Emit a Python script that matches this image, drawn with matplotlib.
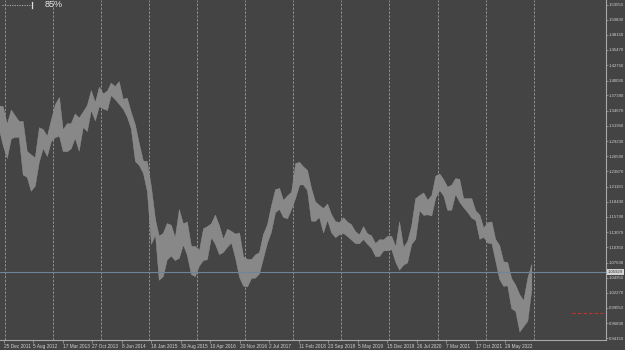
import pandas as pd
import matplotlib
matplotlib.use("Agg")
import matplotlib.pyplot as plt
import matplotlib.transforms as mtransforms
from matplotlib.lines import Line2D

# monthly high / low (Nov 2011 .. Dec 2022)
high = [1.3560, 1.3549,
        1.3236, 1.3487, 1.3385, 1.3284, 1.3283, 1.2747, 1.2691, 1.2637, 1.3172, 1.3140, 1.3020, 1.3308,
        1.3586, 1.3711, 1.3134, 1.3243, 1.3243, 1.3417, 1.3345, 1.3452, 1.3569, 1.3833, 1.3620, 1.3893,
        1.3775, 1.3825, 1.3967, 1.3905, 1.3993, 1.3677, 1.3700, 1.3444, 1.3221, 1.2887, 1.2577, 1.2570,
        1.2110, 1.1534, 1.1244, 1.1290, 1.1467, 1.1436, 1.1215, 1.1714, 1.1460, 1.1495, 1.1058, 1.1059,
        1.0990, 1.1376, 1.1410, 1.1464, 1.1616, 1.1428, 1.1186, 1.1366, 1.1327, 1.1278, 1.1300, 1.0874,
        1.0829, 1.0829, 1.0906, 1.0950, 1.1268, 1.1445, 1.1777, 1.2070, 1.2092, 1.1880, 1.1961, 1.2023,
        1.2536, 1.2555, 1.2476, 1.2414, 1.2097, 1.1852, 1.1791, 1.1734, 1.1815, 1.1625, 1.1500, 1.1486,
        1.1570, 1.1489, 1.1448, 1.1324, 1.1265, 1.1412, 1.1286, 1.1249, 1.1109, 1.1179, 1.1175, 1.1239,
        1.1239, 1.1053, 1.1495, 1.1039, 1.1146, 1.1422, 1.1908, 1.1966, 1.2011, 1.1881, 1.1966, 1.2310,
        1.2349, 1.2243, 1.2114, 1.2150, 1.2266, 1.2254, 1.1909, 1.1909, 1.1909, 1.1692, 1.1616, 1.1386,
        1.1483, 1.1495, 1.1185, 1.1076, 1.0786, 1.0773, 1.0486, 1.0368, 1.0198, 1.0094, 1.0497, 1.0736]
low = [1.3146, 1.2858,
       1.2624, 1.2974, 1.3001, 1.3000, 1.2332, 1.2288, 1.2042, 1.2132, 1.2564, 1.2802, 1.2661, 1.2925,
       1.2998, 1.3019, 1.2750, 1.2745, 1.2796, 1.2985, 1.2755, 1.3178, 1.3105, 1.3478, 1.3296, 1.3547,
       1.3507, 1.3479, 1.3746, 1.3673, 1.3592, 1.3503, 1.3366, 1.3151, 1.2572, 1.2500, 1.2358, 1.2035,
       1.1098, 1.1261, 1.0458, 1.0521, 1.0819, 1.0888, 1.0808, 1.0848, 1.1087, 1.0897, 1.0557, 1.0523,
       1.0711, 1.0810, 1.0822, 1.1217, 1.1098, 1.0913, 1.0952, 1.1046, 1.1122, 1.0852, 1.0505, 1.0352,
       1.0340, 1.0494, 1.0494, 1.0569, 1.0839, 1.1119, 1.1312, 1.1662, 1.1717, 1.1574, 1.1553, 1.1717,
       1.1916, 1.2153, 1.2155, 1.2055, 1.1510, 1.1508, 1.1576, 1.1301, 1.1526, 1.1302, 1.1216, 1.1269,
       1.1289, 1.1234, 1.1176, 1.1110, 1.1106, 1.1181, 1.1101, 1.1027, 1.0879, 1.0879, 1.0981, 1.0981,
       1.1001, 1.0778, 1.0636, 1.0727, 1.0766, 1.1095, 1.1185, 1.1696, 1.1612, 1.1622, 1.1603, 1.1922,
       1.2054, 1.1952, 1.1704, 1.1704, 1.1986, 1.1847, 1.1752, 1.1664, 1.1563, 1.1524, 1.1186, 1.1222,
       1.1121, 1.1106, 1.0806, 1.0471, 1.0349, 1.0359, 0.9952, 0.9901, 0.9536, 0.9632, 0.9730, 1.0290]
months = pd.date_range("2011-11-01", periods=len(high), freq="MS") + pd.Timedelta(days=14)

price_labels = ["1.53550", "1.50830", "1.48150", "1.45470", "1.42750", "1.40030", "1.37390",
                "1.34670", "1.31950", "1.29230", "1.26590", "1.23870", "1.21150", "1.18430",
                "1.15790", "1.13070", "1.10350", "1.07630", "1.04950", "1.02270", "0.99550",
                "0.96830", "0.94150"]
date_labels = ["25 Dec 2011", "5 Aug 2012", "17 Mar 2013", "27 Oct 2013", "8 Jun 2014",
               "18 Jan 2015", "30 Aug 2015", "10 Apr 2016", "20 Nov 2016", "2 Jul 2017",
               "11 Feb 2018", "23 Sep 2018", "5 May 2019", "15 Dec 2019", "26 Jul 2020",
               "7 Mar 2021", "17 Oct 2021", "29 May 2022"]
grid_years = list(range(2012, 2024))
last_price = 1.05929
stop_level = 0.9860
progress = "85%"

bg = "#444444"
fig = plt.figure(figsize=(6.25, 3.5), dpi=100, facecolor=bg)
ax = fig.add_axes([0, 10 / 350, 606 / 625, 340 / 350], facecolor=bg)

# bars band
ax.fill_between(months, low, high, color="#888888", lw=0.3, edgecolor="#949494")

# yearly separators
for yr in grid_years:
    ax.axvline(pd.Timestamp(f"{yr}-01-01"), color="#909090", lw=0.7, ls=(0, (2.5, 1.5)), zorder=0)

# current price and stop line
ax.axhline(last_price, color="#6d8499", lw=0.8)
ax.axhline(stop_level, xmin=572 / 606, xmax=0.995, color="#c83030", lw=0.8, ls=(0, (3, 2)))

# scales
d0 = pd.Timestamp("2011-12-25")
px_week = 0.921
left = d0 - pd.Timedelta(weeks=4 / px_week)
ax.set_xlim(left, left + pd.Timedelta(weeks=606 / px_week))
ax.set_ylim(0.9385, 0.9385 + 340 * 0.00178)

font = ["Liberation Sans", "DejaVu Sans"]
ax.yaxis.tick_right()
ax.set_yticks([float(v) for v in price_labels])
ax.set_yticklabels(price_labels, fontsize=3.1, color="#d0d0d0", family=font)
ax.set_xticks(pd.to_datetime(date_labels, format="%d %b %Y"))
ax.set_xticklabels(date_labels, fontsize=3.4, color="#d0d0d0", ha="left", family=font)
ax.tick_params(axis="y", length=1.5, width=0.5, color="#a8a8a8", pad=0.4)
ax.tick_params(axis="x", length=2, width=0.5, color="#a8a8a8", pad=1)

for s in ["left", "top"]:
    ax.spines[s].set_visible(False)
for s in ["right", "bottom"]:
    ax.spines[s].set_color("#a8a8a8")
    ax.spines[s].set_linewidth(0.8)

# price box on the scale
trans = mtransforms.blended_transform_factory(ax.transAxes, ax.transData)
trans = mtransforms.offset_copy(trans, fig=fig, x=2, y=0, units="dots")
ax.text(1.0, last_price, f"{last_price:.5f}", transform=trans, ha="left", va="center",
        fontsize=3.1, color="#303030", family=font,
        bbox=dict(boxstyle="square,pad=0.2", fc="#d4d4d4", ec="none"))

# loading indicator top left
fig.add_artist(Line2D([2 / 625, 31 / 625], [1 - 5 / 350] * 2, transform=fig.transFigure,
                      ls=(0, (1, 1.2)), color="#b0b0b0", lw=0.8))
fig.add_artist(Line2D([32 / 625] * 2, [1 - 2 / 350, 1 - 8 / 350], transform=fig.transFigure,
                      color="#e0e0e0", lw=0.9))
fig.text(45 / 625, 1 - 4.5 / 350, progress, fontsize=6.5, color="#e8e8e8", va="center",
         ha="left", family=font)

fig.savefig("out.png", dpi=100, facecolor=bg)
